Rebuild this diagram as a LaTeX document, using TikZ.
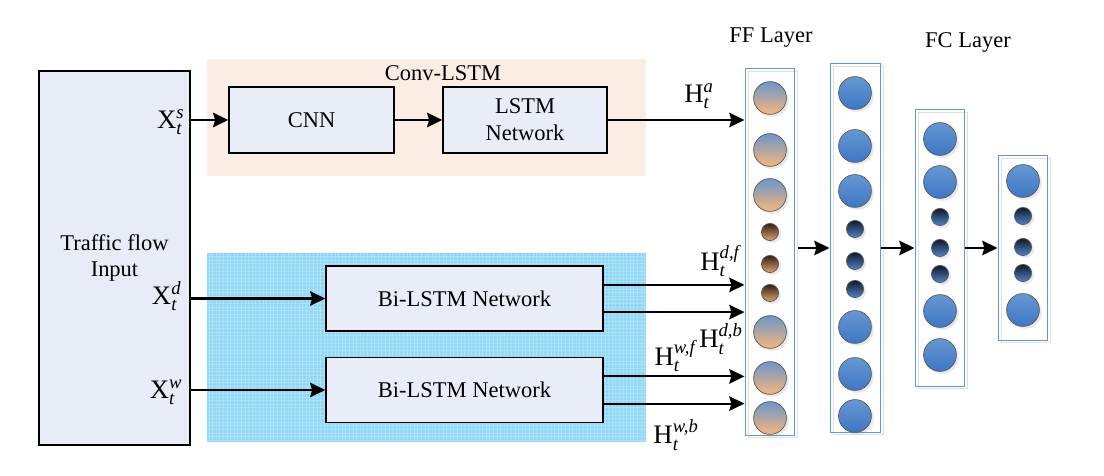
\documentclass[tikz,border=0pt]{standalone}
\usepackage{amsmath}
\usepackage{fontspec}
\setmainfont{Liberation Serif}
\usetikzlibrary{arrows.meta,positioning,shadows}
\definecolor{inpfill}{RGB}{232,236,246}
\definecolor{boxfill}{RGB}{233,237,247}
\definecolor{convbg}{RGB}{251,237,227}
\definecolor{bibg}{RGB}{146,214,246}
\definecolor{bigrid}{RGB}{170,226,250}
\definecolor{colframe}{RGB}{91,155,213}
\definecolor{blutop}{RGB}{102,152,210}
\definecolor{blubot}{RGB}{62,118,196}
\definecolor{orgtop}{RGB}{108,150,204}
\definecolor{orgbot}{RGB}{246,182,122}
\definecolor{darktop}{RGB}{18,24,40}
\definecolor{browntop}{RGB}{48,32,22}
\newcommand{\hvar}[3]{$\textnormal{#1}_{\textit{#2}}^{\textit{#3}}$}

\begin{document}
\begin{tikzpicture}[font=\fontsize{16}{19}\selectfont,
  >={Stealth[length=3.8mm,width=3.6mm,inset=0.5mm]},
  box/.style={draw, line width=1pt, fill=boxfill, align=center, inner sep=0pt},
  lbl/.style={font=\fontsize{19}{22}\selectfont, inner sep=1pt},
  link/.style={->, line width=1.5pt},
  colbox/.style={draw=colframe, line width=0.7pt, minimum width=1.225cm,
                 general shadow={draw=black!12, line width=0.7pt,
                                 shadow xshift=0.08cm, shadow yshift=-0.06cm}},
  ball/.style={circle, draw=black!65, line width=0.5pt, inner sep=0pt,
               drop shadow={shadow xshift=0.06cm, shadow yshift=-0.06cm, opacity=0.18}},
  ffbig/.style={ball, minimum size=0.82cm, top color=orgtop, bottom color=orgbot},
  ffsmall/.style={ball, minimum size=0.43cm, top color=browntop, bottom color=orgbot!90!black},
  fcbig/.style={ball, minimum size=0.82cm, top color=blutop, bottom color=blubot},
  fcsmall/.style={ball, minimum size=0.43cm, top color=darktop, bottom color=blubot!90!white}]
\useasboundingbox (0,0) rectangle (27.6,11.9);

% group backgrounds
\fill[convbg] (5.175,7.5) rectangle (16.15,10.425);
\fill[bibg] (5.175,0.85) rectangle (16.15,5.575);
\draw[bigrid, line width=0.25pt, step=0.09] (5.175,0.85) grid (16.15,5.575);

\node[box, fill=inpfill, minimum width=3.775cm, minimum height=9.35cm] (inp) at (2.8625,5.45) {Traffic flow\\Input};
\node (convtitle) at (11.075,10.075) {Conv-LSTM};
\node[box, minimum width=4.125cm, minimum height=1.65cm] (cnn) at (7.7875,8.9) {CNN};
\node[box, minimum width=4.1cm, minimum height=1.65cm] (lstm) at (13.125,8.9) {LSTM\\Network};
\node[box, minimum width=6.925cm, minimum height=1.625cm] (bi1) at (11.6125,4.4375) {Bi-LSTM Network};
\node[box, minimum width=6.925cm, minimum height=1.625cm] (bi2) at (11.6125,2.15) {Bi-LSTM Network};

\node[lbl, anchor=east] (xs) at (4.65,8.85) {\hvar{X}{t}{s}};
\node[lbl, anchor=east] (xd) at (4.575,4.5) {\hvar{X}{t}{d}};
\node[lbl, anchor=east] (xw) at (4.6,2.1) {\hvar{X}{t}{w}};

% layer columns
\node[colbox, minimum height=9.15cm] (ff) at (19.2375,5.6) {};
\node[colbox, minimum width=1.25cm, minimum height=9.2cm] (fc1) at (21.375,5.7) {};
\node[colbox, minimum height=6.9cm] (fc2) at (23.4875,5.7) {};
\node[colbox, minimum height=4.6cm] (fc3) at (25.5625,5.7) {};
\node (fftitle) at (19.275,10.95) {FF Layer};
\node (fctitle) at (24.2,10.85) {FC Layer};

\foreach \y [count=\i] in {9.45,8.15,7.025,3.6,2.45,1.45}
  \node[ffbig] (ffa\i) at (19.25,\y) {};
\foreach \y [count=\i] in {6.1,5.3,4.575}
  \node[ffsmall] (ffb\i) at (19.25,\y) {};
\foreach \y [count=\i] in {9.575,8.25,7.125,3.725,2.55,1.5}
  \node[fcbig] (fca\i) at (21.375,\y) {};
\foreach \y [count=\i] in {6.175,5.375,4.675}
  \node[fcsmall] (fcb\i) at (21.375,\y) {};
\foreach \y [count=\i] in {8.425,7.35,4.125,3.025}
  \node[fcbig] (fcc\i) at (23.5,\y) {};
\foreach \y [count=\i] in {6.475,5.7,5.05}
  \node[fcsmall] (fcd\i) at (23.5,\y) {};
\foreach \y [count=\i] in {7.375,4.15}
  \node[fcbig] (fce\i) at (25.575,\y) {};
\foreach \y [count=\i] in {6.5,5.725,5.075}
  \node[fcsmall] (fcf\i) at (25.575,\y) {};

% connectors
\draw[link] (inp.east |- cnn) -- (cnn.west);
\draw[link] (cnn) -- (lstm);
\draw[link] (lstm.east) -- (lstm.east -| ff.west);
\draw[link] (inp.east |- bi1) -- (bi1.west);
\draw[link] (inp.east |- bi2) -- (bi2.west);
\foreach \b in {bi1,bi2}
  \foreach \d in {0.34,-0.34}
    \draw[link] ([yshift=\d cm]\b.east) -- ([yshift=\d cm]\b.east -| ff.west);
\draw[link] ([xshift=0.08cm]ff.east |- fc1) -- (fc1.west);
\draw[link] (fc1) -- (fc2);
\draw[link] (fc2) -- (fc3);

\node[lbl] (ha) at (17.475,9.5) {\hvar{H}{t}{a}};
\node[lbl] (hdf) at (18.0,5.375) {\hvar{H}{t}{d,f}};
\node[lbl] (hdb) at (18.025,3.425) {\hvar{H}{t}{d,b}};
\node[lbl] (hwf) at (16.875,3.0) {\hvar{H}{t}{w,f}};
\node[lbl] (hwb) at (16.9,1.025) {\hvar{H}{t}{w,b}};
\end{tikzpicture}
\end{document}
